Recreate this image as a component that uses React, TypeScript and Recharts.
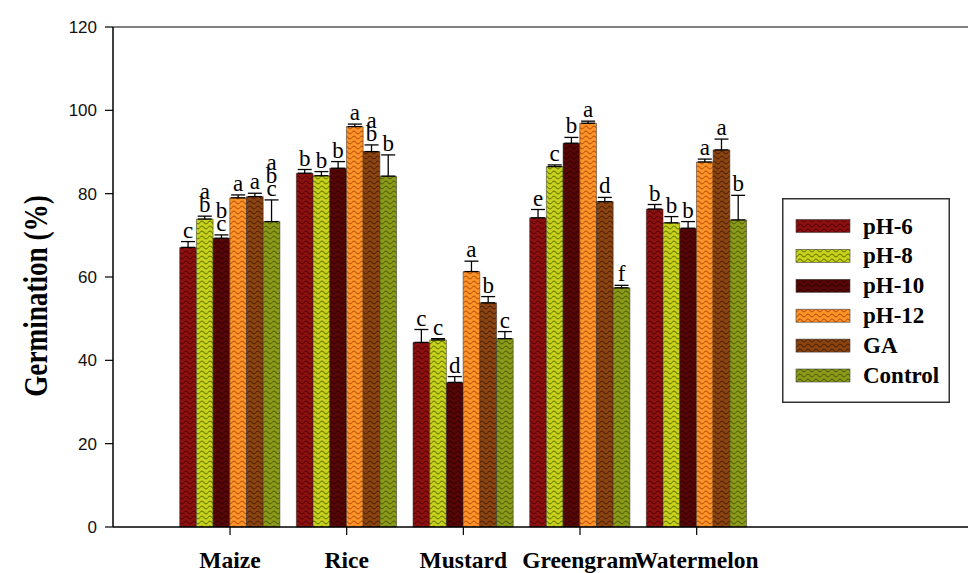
import React from 'react';
import { BarChart, Bar, XAxis, YAxis, ErrorBar, LabelList, ReferenceLine, Legend, Label } from 'recharts';

// Crops on the x axis and treatments (one bar series each)
const crops = ['Maize', 'Rice', 'Mustard', 'Greengram', 'Watermelon'];

const ph6 = [67.1, 84.9, 44.3, 74.2, 76.3];
const ph8 = [73.9, 84.3, 44.9, 86.5, 73.0];
const ph10 = [69.3, 86.1, 34.7, 92.1, 71.7];
const ph12 = [79.0, 96.1, 61.3, 96.9, 87.6];
const ga = [79.3, 90.1, 53.8, 78.1, 90.5];
const control = [73.3, 84.2, 45.2, 57.4, 73.7];

// Standard errors (drawn upward only)
const ph6Err = [1.4, 0.9, 3.1, 2.0, 1.1];
const ph8Err = [0.7, 1.0, 0.3, 0.4, 1.5];
const ph10Err = [0.8, 1.6, 1.4, 1.4, 1.6];
const ph12Err = [0.7, 0.6, 2.5, 0.5, 0.7];
const gaErr = [0.8, 1.6, 1.5, 1.0, 2.6];
const controlErr = [5.2, 5.1, 1.7, 0.6, 5.9];

// Significance letters above each bar
const ph6Letters = ['c', 'b', 'c', 'e', 'b'];
const ph8Letters = ['ab', 'b', 'c', 'c', 'b'];
const ph10Letters = ['bc', 'b', 'd', 'b', 'b'];
const ph12Letters = ['a', 'a', 'a', 'a', 'a'];
const gaLetters = ['a', 'ab', 'b', 'd', 'a'];
const controlLetters = ['abc', 'b', 'c', 'f', 'b'];

const yTicks = [0, 20, 40, 60, 80, 100, 120];

type Series = {
  key: string;
  name: string;
  values: number[];
  errors: number[];
  letters: string[];
  base: string;
  wave: string;
};

const series: Series[] = [
  { key: 'ph6', name: 'pH-6', values: ph6, errors: ph6Err, letters: ph6Letters, base: '#8c1010', wave: '#5a0404' },
  { key: 'ph8', name: 'pH-8', values: ph8, errors: ph8Err, letters: ph8Letters, base: '#c8d21e', wave: '#6f8000' },
  { key: 'ph10', name: 'pH-10', values: ph10, errors: ph10Err, letters: ph10Letters, base: '#560606', wave: '#360101' },
  { key: 'ph12', name: 'pH-12', values: ph12, errors: ph12Err, letters: ph12Letters, base: '#fb9429', wave: '#c4560a' },
  { key: 'ga', name: 'GA', values: ga, errors: gaErr, letters: gaLetters, base: '#8a4412', wave: '#552304' },
  { key: 'control', name: 'Control', values: control, errors: controlErr, letters: controlLetters, base: '#8c9a1a', wave: '#56660a' },
];

const data = crops.map((crop, i) => {
  const row: Record<string, any> = { crop };
  series.forEach((s) => {
    row[s.key] = s.values[i];
    row[s.key + 'Err'] = [0, s.errors[i]];
  });
  return row;
});

const serif = 'Liberation Serif, Tinos, DejaVu Serif, serif';
const sans = 'Liberation Sans, Arial, sans-serif';

const WavePattern = ({ s }: { s: Series }) => (
  <pattern id={`wave-${s.key}`} patternUnits="userSpaceOnUse" width={8} height={5}>
    <rect width={8} height={5} fill={s.base} />
    <path d="M0 2.5 C1.3 0.7 2.7 0.7 4 2.5 S6.7 4.3 8 2.5" fill="none" stroke={s.wave} strokeWidth={1.1} />
  </pattern>
);

const Letters = (props: any) => {
  const { index, value, s } = props;
  const vb = props.viewBox || {};
  const x = Number(props.x ?? vb.x);
  const y = Number(props.y ?? vb.y);
  const w = Number(props.width ?? vb.width);
  const h = Number(props.height ?? vb.height);
  const pxPerUnit = h / Number(value);
  const top = y - s.errors[index] * pxPerUnit;
  const chars: string[] = s.letters[index].split('');
  return (
    <g>
      {chars.map((c, k) => (
        <text
          key={k}
          x={x + w / 2}
          y={top - 4 - (chars.length - 1 - k) * 13}
          textAnchor="middle"
          style={{ fontFamily: serif, fontSize: 23 }}
          fill="#000"
        >
          {c}
        </text>
      ))}
    </g>
  );
};

const CropTick = (props: any) => {
  const { x, y, payload } = props;
  return (
    <text
      x={x}
      y={y + 31}
      textAnchor="middle"
      style={{ fontFamily: serif, fontWeight: 'bold', fontSize: 23.5 }}
      fill="#000"
    >
      {payload.value}
    </text>
  );
};

const LegendBox = () => (
  <svg width={168} height={205} style={{ display: 'block' }}>
    <rect x={0.75} y={0.75} width={166.5} height={203.5} fill="#fff" stroke="#333" strokeWidth={1.5} />
    {series.map((s, i) => {
      const cy = 28 + i * 29.9;
      return (
        <g key={s.key}>
          <rect x={14} y={cy - 6.5} width={54} height={13} fill={`url(#wave-${s.key})`} stroke="#444" strokeWidth={0.6} />
          <text x={81} y={cy + 7.5} style={{ fontFamily: serif, fontWeight: 'bold', fontSize: 23 }} fill="#000">
            {s.name}
          </text>
        </g>
      );
    })}
  </svg>
);

export default function App() {
  return (
    <div style={{ position: 'absolute', left: 0, top: 0, background: '#fff' }}>
      <BarChart
        width={968}
        height={573}
        data={data}
        margin={{ top: 27, right: 0, bottom: 0, left: 53 }}
        barGap={0}
        barSize={16.7}
      >
        <defs>
          {series.map((s) => (
            <WavePattern key={s.key} s={s} />
          ))}
        </defs>
        <XAxis
          dataKey="crop"
          height={46}
          padding={{ left: 58.7, right: 213 }}
          axisLine={{ stroke: '#000', strokeWidth: 1.5 }}
          tickLine={{ stroke: '#000', strokeWidth: 1.2 }}
          tickSize={8}
          tick={<CropTick />}
          interval={0}
        />
        <YAxis
          width={60}
          domain={[0, 120]}
          ticks={yTicks}
          interval={0}
          axisLine={{ stroke: '#000', strokeWidth: 1.5 }}
          tickLine={{ stroke: '#000', strokeWidth: 1.2 }}
          tickSize={8}
          tickMargin={8}
          tick={{ fontFamily: sans, fontSize: 17, fill: '#111' }}
        >
          <Label
            content={() => (
              <text
                x={0}
                y={0}
                transform="translate(47 296) rotate(-90) scale(0.8 1)"
                textAnchor="middle"
                style={{ fontFamily: serif, fontWeight: 'bold', fontSize: 34 }}
                fill="#000"
              >
                Germination (%)
              </text>
            )}
          />
        </YAxis>
        <ReferenceLine y={120} stroke="#000" strokeWidth={1} />
        {series.map((s) => (
          <Bar
            key={s.key}
            dataKey={s.key}
            name={s.name}
            fill={`url(#wave-${s.key})`}
            stroke="#2a2a2a"
            strokeWidth={0.5}
            isAnimationActive={false}
          >
            <ErrorBar dataKey={s.key + 'Err'} direction="y" width={7} stroke="#000" strokeWidth={1.3} />
            <LabelList dataKey={s.key} content={(p: any) => <Letters {...p} s={s} />} />
          </Bar>
        ))}
        <Legend
          layout="vertical"
          align="center"
          verticalAlign="middle"
          wrapperStyle={{ left: 782, top: 198, width: 168, height: 205 }}
          content={() => <LegendBox />}
        />
      </BarChart>
    </div>
  );
}
